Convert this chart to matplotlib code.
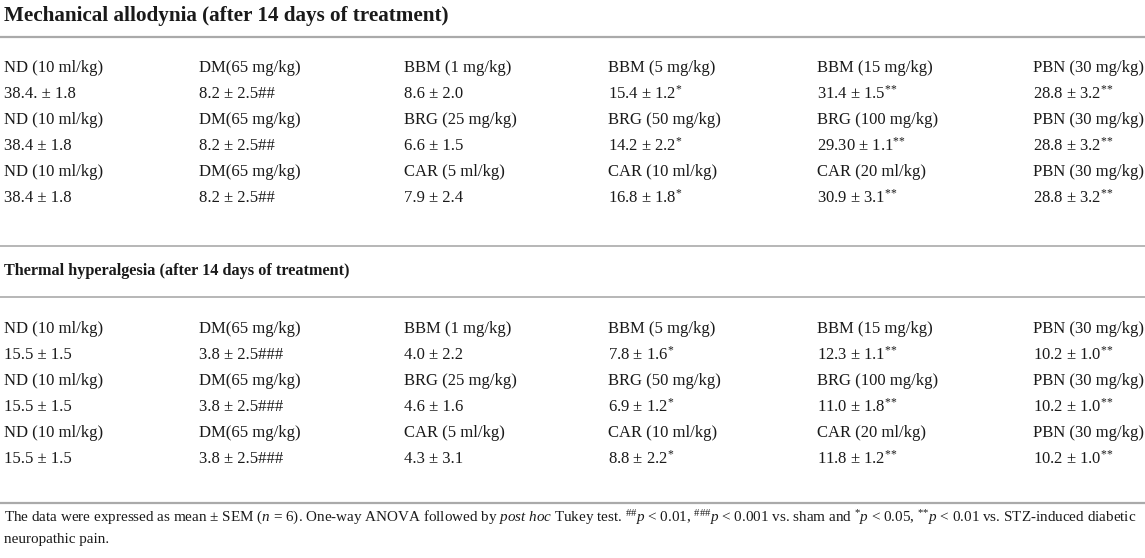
import matplotlib
matplotlib.use("Agg")
import matplotlib.pyplot as plt

plt.rcParams["font.family"] = ["Liberation Serif", "DejaVu Serif"]
plt.rcParams["mathtext.fontset"] = "custom"
plt.rcParams["mathtext.rm"] = "Liberation Serif"
plt.rcParams["mathtext.it"] = "Liberation Serif:italic"
plt.rcParams["mathtext.bf"] = "Liberation Serif:bold"

# group labels for each row block
mech_groups = [
    ["ND (10 ml/kg)", "DM(65 mg/kg)", "BBM (1 mg/kg)", "BBM (5 mg/kg)", "BBM (15 mg/kg)", "PBN (30 mg/kg)"],
    ["ND (10 ml/kg)", "DM(65 mg/kg)", "BRG (25 mg/kg)", "BRG (50 mg/kg)", "BRG (100 mg/kg)", "PBN (30 mg/kg)"],
    ["ND (10 ml/kg)", "DM(65 mg/kg)", "CAR (5 ml/kg)", "CAR (10 ml/kg)", "CAR (20 ml/kg)", "PBN (30 mg/kg)"],
]
mech_values = [
    ["38.4. ± 1.8", "8.2 ± 2.5##", "8.6 ± 2.0", "15.4 ± 1.2", "31.4 ± 1.5", "28.8 ± 3.2"],
    ["38.4 ± 1.8", "8.2 ± 2.5##", "6.6 ± 1.5", "14.2 ± 2.2", "29.30 ± 1.1", "28.8 ± 3.2"],
    ["38.4 ± 1.8", "8.2 ± 2.5##", "7.9 ± 2.4", "16.8 ± 1.8", "30.9 ± 3.1", "28.8 ± 3.2"],
]
thermal_groups = mech_groups
thermal_values = [
    ["15.5 ± 1.5", "3.8 ± 2.5###", "4.0 ± 2.2", "7.8 ± 1.6", "12.3 ± 1.1", "10.2 ± 1.0"],
    ["15.5 ± 1.5", "3.8 ± 2.5###", "4.6 ± 1.6", "6.9 ± 1.2", "11.0 ± 1.8", "10.2 ± 1.0"],
    ["15.5 ± 1.5", "3.8 ± 2.5###", "4.3 ± 3.1", "8.8 ± 2.2", "11.8 ± 1.2", "10.2 ± 1.0"],
]
# superscript stars per column (same in every row)
stars = ["", "", "", "{*}", "{*}{*}", "{*}{*}"]

title_mech = "Mechanical allodynia (after 14 days of treatment)"
title_thermal = "Thermal hyperalgesia (after 14 days of treatment)"
foot1 = (r"The data were expressed as mean ± SEM ($\mathit{n}$ = 6). One-way ANOVA followed by "
         r"$\mathit{post\ hoc}$ Tukey test. $^{\#\#}\mathit{p}$ < 0.01, $^{\#\#\#}\mathit{p}$ < 0.001 vs. sham and "
         r"$^{{*}}\mathit{p}$ < 0.05, $^{{*}{*}}\mathit{p}$ < 0.01 vs. STZ-induced diabetic")
foot2 = "neuropathic pain."

col_x = [4, 199, 404, 608, 817, 1033]
W, H = 1145, 558

fig = plt.figure(figsize=(W / 100, H / 100), dpi=100)
ax = fig.add_axes([0, 0, 1, 1])
ax.set_xlim(0, W)
ax.set_ylim(H, 0)
ax.axis("off")

line_col = "#aaaaaa"
ink = "#1a1a1a"
body = 12


def cell(x, y, s, star=""):
    if star:
        s = s + "$^{" + star + "}$"
    ax.text(x, y, s, fontsize=body, va="center", ha="left", color=ink)


def block(groups, values, y0):
    y = y0
    for g, v in zip(groups, values):
        for i in range(6):
            cell(col_x[i], y, g[i])
        y += 26
        for i in range(6):
            cell(col_x[i], y, v[i], stars[i])
        y += 26


ax.text(4, 16, title_mech, fontsize=15.2, fontweight="bold", va="center", color=ink)
ax.axhline(37, color=line_col, lw=1.6)
block(mech_groups, mech_values, 68)
ax.axhline(246, color=line_col, lw=1.2)
ax.text(4, 271, title_thermal, fontsize=11.7, fontweight="bold", va="center", color=ink)
ax.axhline(297, color=line_col, lw=1.2)
block(thermal_groups, thermal_values, 329)
ax.axhline(503, color=line_col, lw=1.6)
ax.text(4, 518, foot1, fontsize=10.9, va="center", color=ink)
ax.text(4, 540, foot2, fontsize=10.9, va="center", color=ink)

fig.savefig("out.png", dpi=100, facecolor="white")
